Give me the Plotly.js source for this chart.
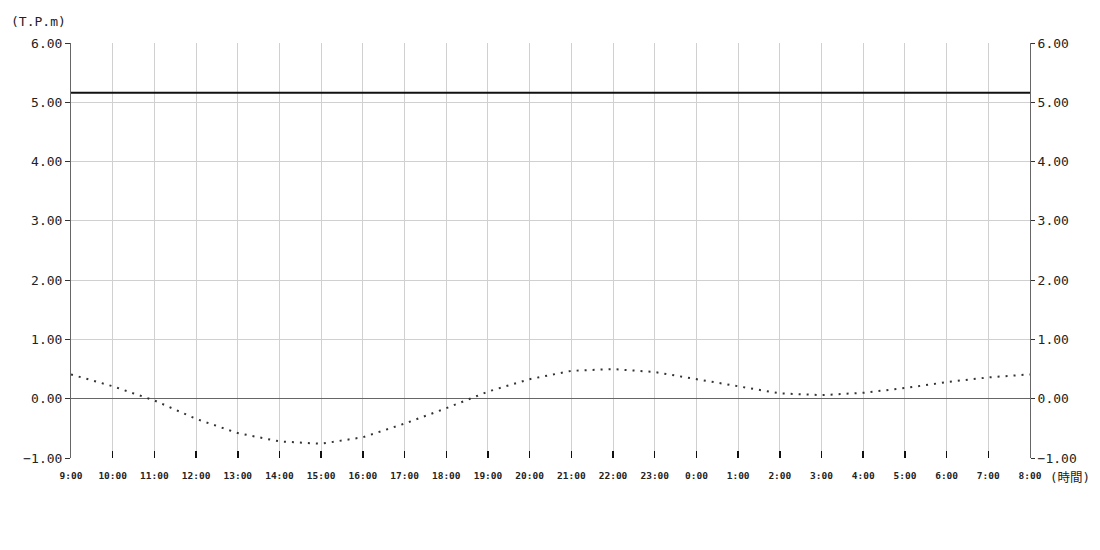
<!DOCTYPE html>
<html>
<head>
<meta charset="utf-8">
<script src="https://cdn.plot.ly/plotly-3.0.1.min.js"></script>
<style>
  body { margin: 0; background: #fff; }
  #tide_plot { width: 1100px; height: 550px; }
</style>
</head>
<body>
<div id="tide_plot"></div>
<script>
// hourly labels, 9:00 to 8:00 next day
var hours = ['9:00','10:00','11:00','12:00','13:00','14:00','15:00','16:00','17:00','18:00','19:00','20:00',
             '21:00','22:00','23:00','0:00','1:00','2:00','3:00','4:00','5:00','6:00','7:00','8:00'];

// predicted tide (T.P.m)
var tide = [0.41, 0.21, -0.03, -0.34, -0.58, -0.72, -0.76, -0.65, -0.42, -0.16, 0.12, 0.33,
            0.47, 0.50, 0.45, 0.33, 0.20, 0.09, 0.06, 0.10, 0.18, 0.28, 0.36, 0.41];

// reference level (solid line)
var refLevel = [5.16, 5.16, 5.16, 5.16, 5.16, 5.16, 5.16, 5.16, 5.16, 5.16, 5.16, 5.16,
                5.16, 5.16, 5.16, 5.16, 5.16, 5.16, 5.16, 5.16, 5.16, 5.16, 5.16, 5.16];

var yTicks = [-1, 0, 1, 2, 3, 4, 5, 6];

function drawTide(){
    var font = 'DejaVu Sans Mono, monospace';
    var data = [
        { x: hours, y: refLevel, mode: 'lines', type: 'scatter', yaxis: 'y2',
          line: { color: '#111', width: 2 }, hoverinfo: 'skip' },
        { x: hours, y: tide, mode: 'lines', type: 'scatter',
          line: { color: '#333', width: 2, dash: '2px,6px' }, hoverinfo: 'skip' }
    ];

    var yax = {
        range: [-1, 6], tickvals: yTicks, tickformat: '.2f',
        showgrid: true, gridcolor: '#d0d0d0', gridwidth: 1,
        zeroline: true, zerolinecolor: '#666', zerolinewidth: 1,
        showline: true, linecolor: '#666', linewidth: 1,
        ticks: 'outside', ticklen: 5, tickcolor: '#333',
        tickfont: { family: font, size: 13, color: '#222' }
    };
    var yax2 = Object.assign({}, yax, {
        overlaying: 'y', side: 'right', showgrid: false, zeroline: false, ticklen: 4
    });

    var layout = {
        width: 1100, height: 550,
        margin: { l: 71, r: 70, t: 43, b: 92 },
        paper_bgcolor: '#fff', plot_bgcolor: '#fff',
        showlegend: false,
        xaxis: {
            type: 'category', range: [0, 23],
            showgrid: true, gridcolor: '#d0d0d0', gridwidth: 1,
            showline: false,
            ticks: 'inside', ticklen: 7, tickcolor: '#111', tickwidth: 1.5,
            tickangle: 0, ticklabelstandoff: 10,
            tickfont: { family: font, size: 9.5, color: '#222', weight: 'bold' }
        },
        yaxis: yax,
        yaxis2: yax2,
        annotations: [
            { text: '(T.P.m)', xref: 'paper', yref: 'paper', x: -0.065, y: 1.053,
              xanchor: 'left', yanchor: 'middle', showarrow: false,
              font: { family: font, size: 13, color: '#222' } },
            { text: '(時間)', xref: 'paper', yref: 'paper', x: 1.019, y: -0.046,
              xanchor: 'left', yanchor: 'middle', showarrow: false,
              font: { family: 'DejaVu Sans Mono, Noto Sans CJK JP, monospace', size: 12.5, color: '#222' } }
        ]
    };

    Plotly.newPlot('tide_plot', data, layout, { staticPlot: true });
}

drawTide();
</script>
</body>
</html>
